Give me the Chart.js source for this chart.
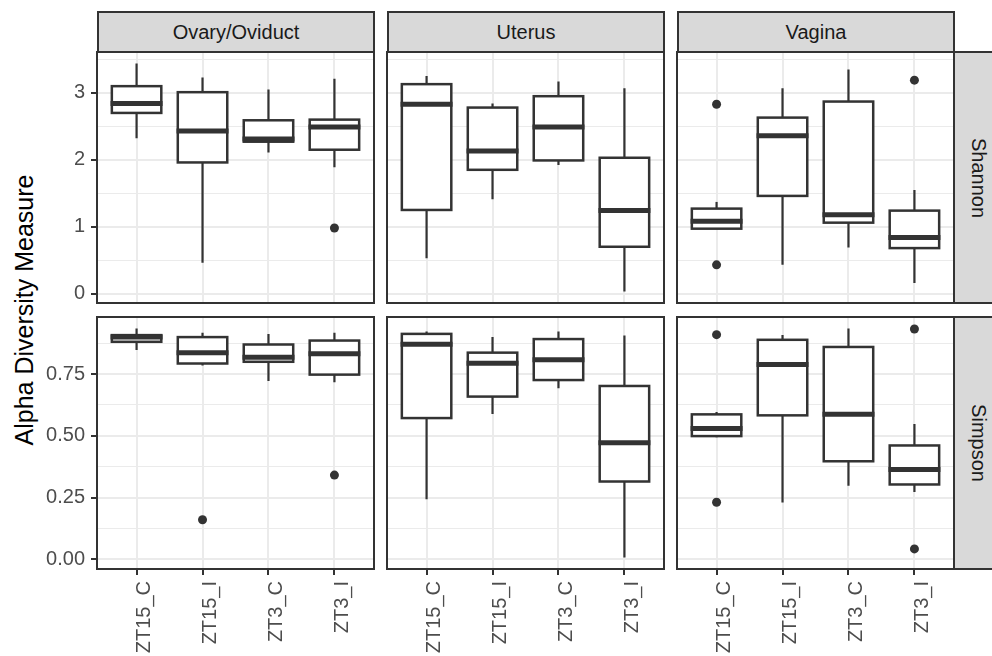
<!DOCTYPE html>
<html>
<head>
<meta charset="utf-8">
<script src="https://cdn.jsdelivr.net/npm/chart.js@4.4.1/dist/chart.umd.min.js"></script>
<style>
  html, body { margin: 0; padding: 0; background: #ffffff; }
  #fig { position: relative; width: 992px; height: 656px; overflow: hidden; background: #ffffff;
         font-family: "Liberation Sans", Arial, Helvetica, sans-serif; }
  #fig canvas { position: absolute; }
  .strip { position: absolute; box-sizing: border-box; background: #d9d9d9; border: 2px solid #333333;
           color: #1a1a1a; font-size: 20px; }
  .strip span { position: absolute; left: 50%; top: 50%; white-space: nowrap; transform: translate(-50%, -50%); }
  .strip.right span { transform: translate(-50%, -50%) rotate(90deg); }
  #ytitle { position: absolute; left: -276px; top: 295px; width: 600px; height: 30px; line-height: 30px;
            text-align: center; font-size: 25px; color: #000000; transform: rotate(-90deg); white-space: nowrap; }
</style>
</head>
<body>
<div id="fig"><div id="ytitle">Alpha Diversity Measure</div></div>
<script>
// Groups on the x axis, facet columns and facet rows
const categories = ['ZT15_C', 'ZT15_I', 'ZT3_C', 'ZT3_I'];
const tissues = ['Ovary/Oviduct', 'Uterus', 'Vagina'];
const measures = ['Shannon', 'Simpson'];

// Box summaries per group: [lower whisker, Q1, median, Q3, upper whisker]
const shannonOvary = [[2.32, 2.70, 2.84, 3.10, 3.44], [0.46, 1.96, 2.43, 3.01, 3.23], [2.11, 2.27, 2.31, 2.59, 3.05], [1.89, 2.15, 2.49, 2.60, 3.21]];
const shannonUterus = [[0.53, 1.25, 2.83, 3.13, 3.25], [1.41, 1.85, 2.13, 2.78, 2.84], [1.92, 1.99, 2.49, 2.95, 3.17], [0.03, 0.70, 1.24, 2.03, 3.07]];
const shannonVagina = [[0.97, 0.97, 1.08, 1.27, 1.37], [0.43, 1.46, 2.36, 2.63, 3.07], [0.69, 1.06, 1.18, 2.87, 3.35], [0.16, 0.68, 0.84, 1.24, 1.55]];
const simpsonOvary = [[0.848, 0.881, 0.900, 0.908, 0.935], [0.785, 0.793, 0.837, 0.900, 0.918], [0.722, 0.800, 0.818, 0.870, 0.913], [0.717, 0.748, 0.833, 0.886, 0.918]];
const simpsonUterus = [[0.243, 0.572, 0.871, 0.913, 0.923], [0.588, 0.659, 0.794, 0.837, 0.900], [0.693, 0.726, 0.808, 0.892, 0.923], [0.007, 0.315, 0.472, 0.702, 0.906]];
const simpsonVagina = [[0.494, 0.499, 0.530, 0.587, 0.597], [0.230, 0.583, 0.789, 0.889, 0.908], [0.298, 0.397, 0.587, 0.860, 0.935], [0.273, 0.303, 0.364, 0.461, 0.548]];

// Outlying samples: [group, value]
const shannonOvaryOutliers = [['ZT3_I', 0.98]];
const shannonUterusOutliers = [];
const shannonVaginaOutliers = [['ZT15_C', 2.83], ['ZT15_C', 0.43], ['ZT3_I', 3.19]];
const simpsonOvaryOutliers = [['ZT15_I', 0.160], ['ZT3_I', 0.341]];
const simpsonUterusOutliers = [];
const simpsonVaginaOutliers = [['ZT15_C', 0.910], ['ZT15_C', 0.231], ['ZT3_I', 0.933], ['ZT3_I', 0.042]];

// Labelled y ticks for each row
const shannonTicks = [0, 1, 2, 3];
const shannonTickLabels = ['0', '1', '2', '3'];
const simpsonTicks = [0, 0.25, 0.5, 0.75];
const simpsonTickLabels = ['0.00', '0.25', '0.50', '0.75'];

Chart.defaults.font.family = '"Liberation Sans", Arial, Helvetica, sans-serif';

const INK = '#333333';
const GRID = '#ebebeb';

// Facet geometry
const colLeft = [97, 387, 677];
const panelW = 277;
const rowTop = [52, 317];
const panelH = [251, 252];
const FIG_H = 656;
const MARGIN = 20;

const rows = [
  { ticks: shannonTicks, labels: shannonTickLabels,
    panels: [[shannonOvary, shannonOvaryOutliers], [shannonUterus, shannonUterusOutliers], [shannonVagina, shannonVaginaOutliers]] },
  { ticks: simpsonTicks, labels: simpsonTickLabels,
    panels: [[simpsonOvary, simpsonOvaryOutliers], [simpsonUterus, simpsonUterusOutliers], [simpsonVagina, simpsonVaginaOutliers]] }
];

// Shared y range per row, widened by 5% on each side
function rowRange(row) {
  let lo = Infinity, hi = -Infinity;
  row.panels.forEach(([stats, outs]) => {
    stats.forEach(s => s.forEach(v => { lo = Math.min(lo, v); hi = Math.max(hi, v); }));
    outs.forEach(o => { lo = Math.min(lo, o[1]); hi = Math.max(hi, o[1]); });
  });
  const pad = (hi - lo) * 0.05;
  return [lo - pad, hi + pad];
}

// Major ticks plus minor ticks half way between them
function tickList(majors, min, max) {
  const step = majors[1] - majors[0];
  const list = majors.map(v => ({ value: v, minor: false }));
  const cands = [majors[0] - step / 2].concat(majors.map(v => v + step / 2));
  cands.forEach(v => { if (v >= min && v <= max) list.push({ value: v, minor: true }); });
  return list.sort((a, b) => a.value - b.value);
}

// Whiskers under the boxes; outline and median on top of them
const boxPlot = {
  id: 'boxPlot',
  beforeDatasetsDraw(chart) {
    const ds = chart.data.datasets[0];
    const xs = chart.scales.x, ys = chart.scales.y;
    const ctx = chart.ctx;
    ctx.save();
    ctx.strokeStyle = INK;
    ctx.lineWidth = 2.2;
    ctx.lineCap = 'butt';
    ds.summary.forEach((s, i) => {
      const x = xs.getPixelForValue(i);
      ctx.beginPath();
      ctx.moveTo(x, ys.getPixelForValue(s[0]));
      ctx.lineTo(x, ys.getPixelForValue(s[1]));
      ctx.moveTo(x, ys.getPixelForValue(s[3]));
      ctx.lineTo(x, ys.getPixelForValue(s[4]));
      ctx.stroke();
    });
    ctx.restore();
  },
  afterDatasetDraw(chart, args) {
    if (args.index !== 0) return;
    const ds = chart.data.datasets[0];
    const ys = chart.scales.y;
    const meta = chart.getDatasetMeta(0);
    const ctx = chart.ctx;
    ctx.save();
    ctx.strokeStyle = INK;
    ds.summary.forEach((s, i) => {
      const bar = meta.data[i].getProps(['x', 'width', 'y', 'base'], true);
      const l = bar.x - bar.width / 2, r = bar.x + bar.width / 2;
      ctx.lineWidth = 2.5;
      ctx.strokeRect(l, Math.min(bar.y, bar.base), r - l, Math.abs(bar.base - bar.y));
      const m = ys.getPixelForValue(s[2]);
      ctx.lineWidth = 5;
      ctx.beginPath();
      ctx.moveTo(l - 1.25, m);
      ctx.lineTo(r + 1.25, m);
      ctx.stroke();
    });
    ctx.restore();
  },
  afterDraw(chart) {
    const a = chart.chartArea;
    const ctx = chart.ctx;
    ctx.save();
    ctx.strokeStyle = INK;
    ctx.lineWidth = 2;
    ctx.strokeRect(a.left, a.top, a.right - a.left, a.bottom - a.top);
    ctx.restore();
  }
};

const fig = document.getElementById('fig');

function addStrip(text, left, top, width, height, right) {
  const d = document.createElement('div');
  d.className = 'strip' + (right ? ' right' : '');
  d.style.left = left + 'px';
  d.style.top = top + 'px';
  d.style.width = width + 'px';
  d.style.height = height + 'px';
  const s = document.createElement('span');
  s.textContent = text;
  d.appendChild(s);
  fig.appendChild(d);
}

tissues.forEach((t, c) => addStrip(t, colLeft[c], 11, panelW + 1, 42, false));
measures.forEach((m, r) => addStrip(m, colLeft[2] + panelW - 1, rowTop[r] - 1, 50, panelH[r] + 2, true));

rows.forEach((row, r) => {
  const [yMin, yMax] = rowRange(row);
  const yTicks = tickList(row.ticks, yMin, yMax);
  row.panels.forEach(([stats, outs], c) => {
    const left = c === 0 ? 0 : colLeft[c] - MARGIN;
    const padL = c === 0 ? 0 : MARGIN;
    const yAxisW = c === 0 ? colLeft[0] : 0;
    const top = rowTop[r] - MARGIN;
    const xAxisH = r === 1 ? FIG_H - (rowTop[r] + panelH[r]) : 0;
    const padB = r === 1 ? 0 : MARGIN;
    const width = padL + yAxisW + panelW + MARGIN;
    const height = MARGIN + panelH[r] + xAxisH + padB;

    const canvas = document.createElement('canvas');
    canvas.width = width;
    canvas.height = height;
    canvas.style.left = left + 'px';
    canvas.style.top = top + 'px';
    canvas.style.width = width + 'px';
    canvas.style.height = height + 'px';
    fig.appendChild(canvas);

    new Chart(canvas, {
      type: 'bar',
      data: {
        datasets: [
          {
            type: 'bar',
            summary: stats,
            data: stats.map((s, i) => ({ x: i, y: [s[1], s[3]] })),
            backgroundColor: '#ffffff',
            borderWidth: 0,
            categoryPercentage: 1,
            barPercentage: 0.75,
            inflateAmount: 0
          },
          {
            type: 'scatter',
            data: outs.map(o => ({ x: categories.indexOf(o[0]), y: o[1] })),
            pointRadius: 4.5,
            pointBackgroundColor: INK,
            pointBorderWidth: 0
          }
        ]
      },
      options: {
        responsive: false,
        animation: false,
        events: [],
        layout: { padding: { left: padL, right: MARGIN, top: MARGIN, bottom: padB } },
        plugins: { legend: { display: false }, tooltip: { enabled: false } },
        scales: {
          x: {
            type: 'linear',
            min: -0.6,
            max: categories.length - 1 + 0.6,
            offset: false,
            afterBuildTicks: s => { s.ticks = categories.map((_, i) => ({ value: i })); },
            afterFit: s => { s.height = xAxisH; },
            ticks: {
              display: r === 1,
              autoSkip: false,
              minRotation: 90,
              maxRotation: 90,
              padding: 6,
              labelOffset: 8,
              color: '#4d4d4d',
              font: { size: 20 },
              callback: v => categories[Math.round(v)]
            },
            grid: { color: GRID, lineWidth: 2, offset: false, drawTicks: r === 1, tickLength: 6, tickColor: INK, tickWidth: 2 },
            border: { display: false }
          },
          y: {
            type: 'linear',
            min: yMin,
            max: yMax,
            afterBuildTicks: s => { s.ticks = yTicks.map(t => ({ value: t.value, minor: t.minor })); },
            afterFit: s => { s.width = yAxisW; },
            ticks: {
              display: c === 0,
              autoSkip: false,
              padding: 6,
              color: '#4d4d4d',
              font: { size: 20 },
              callback: v => {
                const k = row.ticks.findIndex(t => Math.abs(t - v) < 1e-9);
                return k < 0 ? '' : row.labels[k];
              }
            },
            grid: {
              color: GRID,
              lineWidth: ctx => (ctx.tick && ctx.tick.minor ? 1 : 2),
              drawTicks: c === 0,
              tickLength: 6,
              tickWidth: 2,
              tickColor: ctx => (ctx.tick && ctx.tick.minor ? 'rgba(0,0,0,0)' : INK)
            },
            border: { display: false }
          }
        }
      },
      plugins: [boxPlot]
    });
  });
});
</script>
</body>
</html>
